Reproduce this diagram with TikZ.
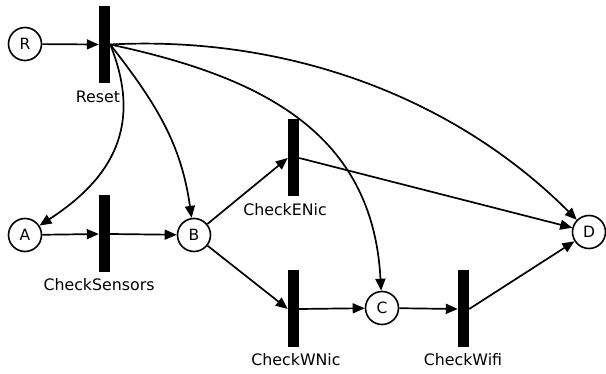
\documentclass[tikz,border=0pt]{standalone}
\usepackage{fontspec}
\setmainfont{DejaVu Sans}
\usetikzlibrary{arrows.meta}
\begin{document}
\begin{tikzpicture}[x=1pt,y=-1pt,
  place/.style={circle,draw,line width=1.6pt,minimum size=33pt,inner sep=0pt,font=\fontsize{15.5}{18}\selectfont},
  trans/.style={rectangle,fill=black,minimum width=11pt,minimum height=77pt,inner sep=0pt},
  tlabel/.style={font=\fontsize{15.8}{18}\selectfont,inner sep=0pt},
  arc/.style={line width=1.7pt,-{Triangle[length=12pt,width=10pt]}},
  ]
\useasboundingbox (0,0) rectangle (606,374);
\node[place] (R) at (25,44) {R};
\node[place] (A) at (25,235) {A};
\node[place] (B) at (194,235) {B};
\node[place] (C) at (382,308) {C};
\node[place] (D) at (589,232) {D};
\node[trans] (Reset) at (104.5,44.5) {};
\node[trans] (CS) at (104.5,234) {};
\node[trans] (CE) at (293.5,158) {};
\node[trans] (CW) at (293.5,309) {};
\node[trans] (CF) at (463.5,309) {};
\node[tlabel] (lReset) at (98,97) {Reset};
\node[tlabel] (lCS) at (99,285) {CheckSensors};
\node[tlabel] (lCE) at (285,210) {CheckENic};
\node[tlabel] (lCW) at (296,360) {CheckWNic};
\node[tlabel] (lCF) at (463,360) {CheckWifi};
\coordinate (rs) at (Reset.east);
\draw[arc] (R) -- (Reset.west);
\draw[arc] (A) -- (CS.west);
\draw[arc] (CS.east) -- (B);
\draw[arc] (B) -- (CE.west);
\draw[arc] (B) -- (CW.west);
\draw[arc] (CW.east) -- (C);
\draw[arc] (C) -- (CF.west);
\draw[arc] (CE.east) -- (D);
\draw[arc] (CF.east) -- (D);
\draw[arc] (rs) to[out=-68,in=33,looseness=1.15] (A);
\draw[arc] (rs) to[out=-52,in=98] (B);
\draw[arc] (rs) to[out=-12,in=93,looseness=1.1] (C);
\draw[arc] (rs) to[out=3,in=135,looseness=0.9] (D);
\end{tikzpicture}
\end{document}
